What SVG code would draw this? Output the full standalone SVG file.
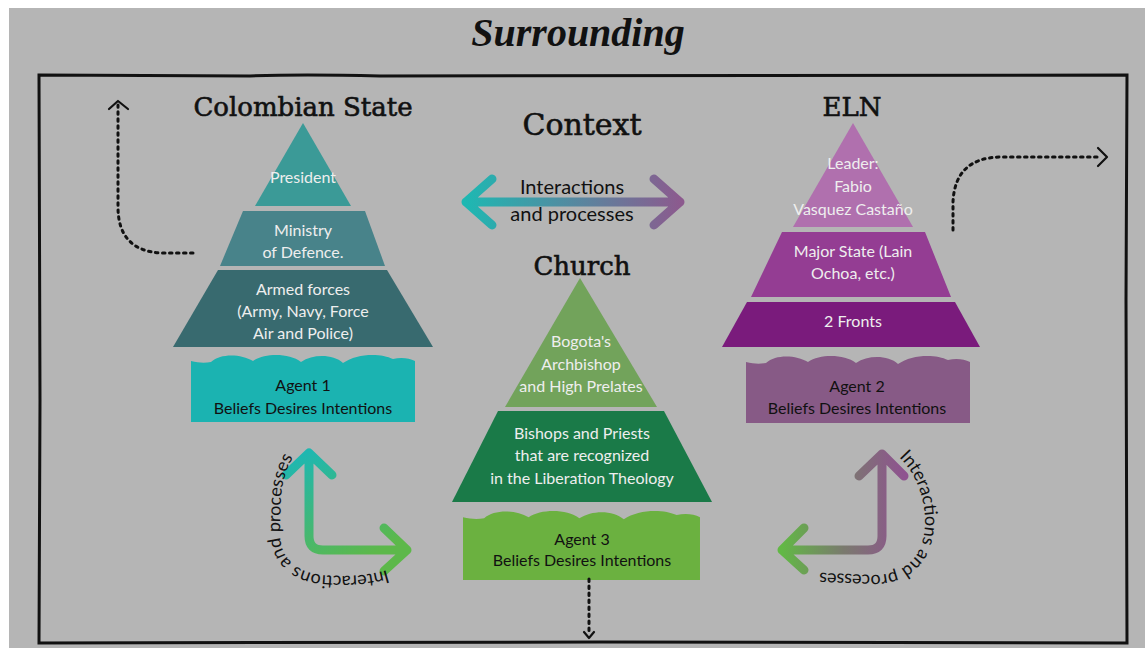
<svg xmlns="http://www.w3.org/2000/svg" width="1145" height="648" viewBox="0 0 1145 648">
<style>
.head{font-family:"DejaVu Serif",serif;fill:#111;stroke:#111;stroke-width:0.6;text-anchor:middle}
.lt{font-family:Lato,"Open Sans",sans-serif;font-size:16px;fill:#eeeeee;text-anchor:middle}
.dk{font-family:Lato,"Open Sans",sans-serif;font-size:16px;fill:#111;text-anchor:middle}
.big{font-size:20px}
.cv{font-family:Lato,"Open Sans",sans-serif;font-size:18px;fill:#111}
.dot{fill:none;stroke:#111;stroke-width:3;stroke-linecap:round;stroke-dasharray:2.5 4.5}
.chev{fill:none;stroke:#111;stroke-width:2.2;stroke-linecap:round;stroke-linejoin:round}
.arr{fill:none;stroke-width:9;stroke-linecap:round;stroke-linejoin:round}
</style>
<defs>
<linearGradient id="gC" gradientUnits="userSpaceOnUse" x1="465" y1="0" x2="681" y2="0"><stop offset="0" stop-color="#1eb8b2"/><stop offset="1" stop-color="#8c5a8e"/></linearGradient>
<linearGradient id="gL" gradientUnits="userSpaceOnUse" x1="309" y1="452" x2="360" y2="560"><stop offset="0" stop-color="#1fb7b0"/><stop offset="1" stop-color="#5db84a"/></linearGradient>
<linearGradient id="gR" gradientUnits="userSpaceOnUse" x1="782" y1="0" x2="905" y2="0"><stop offset="0" stop-color="#62b845"/><stop offset="0.5" stop-color="#7a7a6e"/><stop offset="1" stop-color="#8f5290"/></linearGradient>
<path id="cloud" d="M0,67 L0,6 C8,8 14,8 20,7 C30,-2 50,-1 62,6 C74,-2 98,-2 110,7 C122,-1 142,-1 152,8 C166,-2 190,-2 202,4 C210,2 218,3 224,6 L224,67 Z"/>
<path id="cpL" d="M387,570 Q360,578 322,575 Q282,570 280,535 L281,500 Q282,474 296,452 L305,440"/>
<path id="cpR" d="M899,457 C918,476 925,500 925,522 C925,554 907,574 875,575 L800,572"/>
</defs>
<rect x="0" y="0" width="1145" height="648" fill="#ffffff"/>
<rect x="9" y="8" width="1136" height="640" fill="#b5b5b5"/>
<g id="frame">
<path d="M39,75 L250,76 Q300,74 380,76 L1127,75 L1126,300 L1127,643 L600,642 L39,643 L40,400 Z" fill="none" stroke="#111" stroke-width="3"/>
</g>
<g id="title"><text x="578" y="46" font-family="Liberation Serif,serif" font-style="italic" font-weight="bold" font-size="40" fill="#111" text-anchor="middle">Surrounding</text></g>
<g id="context"><text class="head" x="582" y="135" font-size="30">Context</text></g>
<g id="colombian-state">
<text class="head" x="303" y="116" font-size="26">Colombian State</text>
<polygon points="303,123 255,206 351,206" fill="#3b9a97"/>
<polygon points="243,211 365,211 385,266 220,266" fill="#48838a"/>
<polygon points="218,270 387,270 433,347 173,347" fill="#386a6f"/>
<text class="lt" x="303" y="183">President</text>
<text class="lt" x="303" y="236">Ministry</text>
<text class="lt" x="303" y="258">of Defence.</text>
<text class="lt" x="303" y="295">Armed forces</text>
<text class="lt" x="303" y="317">(Army, Navy, Force</text>
<text class="lt" x="303" y="339">Air and Police)</text>
</g>
<g id="agent1">
<use href="#cloud" transform="translate(191,355)" fill="#1bb3b1"/>
<text class="dk" x="303" y="391">Agent 1</text>
<text class="dk" x="303" y="414">Beliefs Desires Intentions</text>
</g>
<g id="eln">
<text class="head" x="852" y="116" font-size="26">ELN</text>
<polygon points="853,123 793,227 913,227" fill="#b070ae"/>
<polygon points="782,232 925,232 951,297 751,297" fill="#943d93"/>
<polygon points="747,302 955,302 980,347 722,347" fill="#7a1b7c"/>
<text class="lt" x="853" y="169">Leader:</text>
<text class="lt" x="853" y="192">Fabio</text>
<text class="lt" x="853" y="215">Vasquez Castaño</text>
<text class="lt" x="853" y="257">Major State (Lain</text>
<text class="lt" x="853" y="279">Ochoa, etc.)</text>
<text class="lt" x="853" y="327">2 Fronts</text>
</g>
<g id="agent2">
<use href="#cloud" transform="translate(746,356)" fill="#875a86"/>
<text class="dk" x="857" y="392">Agent 2</text>
<text class="dk" x="857" y="414">Beliefs Desires Intentions</text>
</g>
<g id="church">
<text class="head" x="582" y="275" font-size="26">Church</text>
<polygon points="580,278 505,407 657,407" fill="#72a35b"/>
<polygon points="498,411 664,411 712,502 452,502" fill="#1a7a48"/>
<text class="lt" x="581" y="347">Bogota's</text>
<text class="lt" x="581" y="370">Archbishop</text>
<text class="lt" x="581" y="392">and High Prelates</text>
<text class="lt" x="582" y="439">Bishops and Priests</text>
<text class="lt" x="582" y="461">that are recognized</text>
<text class="lt" x="582" y="484">in the Liberation Theology</text>
</g>
<g id="agent3">
<use href="#cloud" transform="translate(463,511) scale(1.058,1.03)" fill="#6bb140"/>
<text class="dk" x="582" y="545">Agent 3</text>
<text class="dk" x="582" y="566">Beliefs Desires Intentions</text>
</g>
<g id="connectors">
<path class="arr" stroke="url(#gC)" d="M466,202 L680,202 M492,179 L466,202 L492,225 M654,179 L680,202 L654,225"/>
<path class="arr" stroke="url(#gL)" d="M309,453 L309,536 Q309,550 323,550 L407,550 M286,475 L309,453 L332,475 M384,528 L407,550 L384,571"/>
<path class="arr" stroke="url(#gR)" d="M882,454 L882,536 Q882,550 868,550 L782,550 M859,476 L882,454 L904,476 M804,528 L782,550 L804,570"/>
<path class="dot" d="M193,253 L160,253 Q118,250 118,207 L118,105"/>
<path class="chev" d="M109,109 L118,101 L128,109"/>
<path class="dot" d="M953,230 L953,202 Q955,158 1000,157 L1100,157"/>
<path class="chev" d="M1098,148 L1107,157 L1098,166"/>
<path class="dot" d="M589,579 L589,634"/>
<path class="chev" d="M584,632 L589,638 L594,632"/>
</g>
<g id="center-label">
<text class="dk big" x="572" y="194">Interactions</text>
<text class="dk big" x="572" y="221">and processes</text>
</g>
<g id="left-label"><text class="cv"><textPath href="#cpL">Interactions and processes</textPath></text></g>
<g id="right-label"><text class="cv"><textPath href="#cpR">Interactions and processes</textPath></text></g>
</svg>
